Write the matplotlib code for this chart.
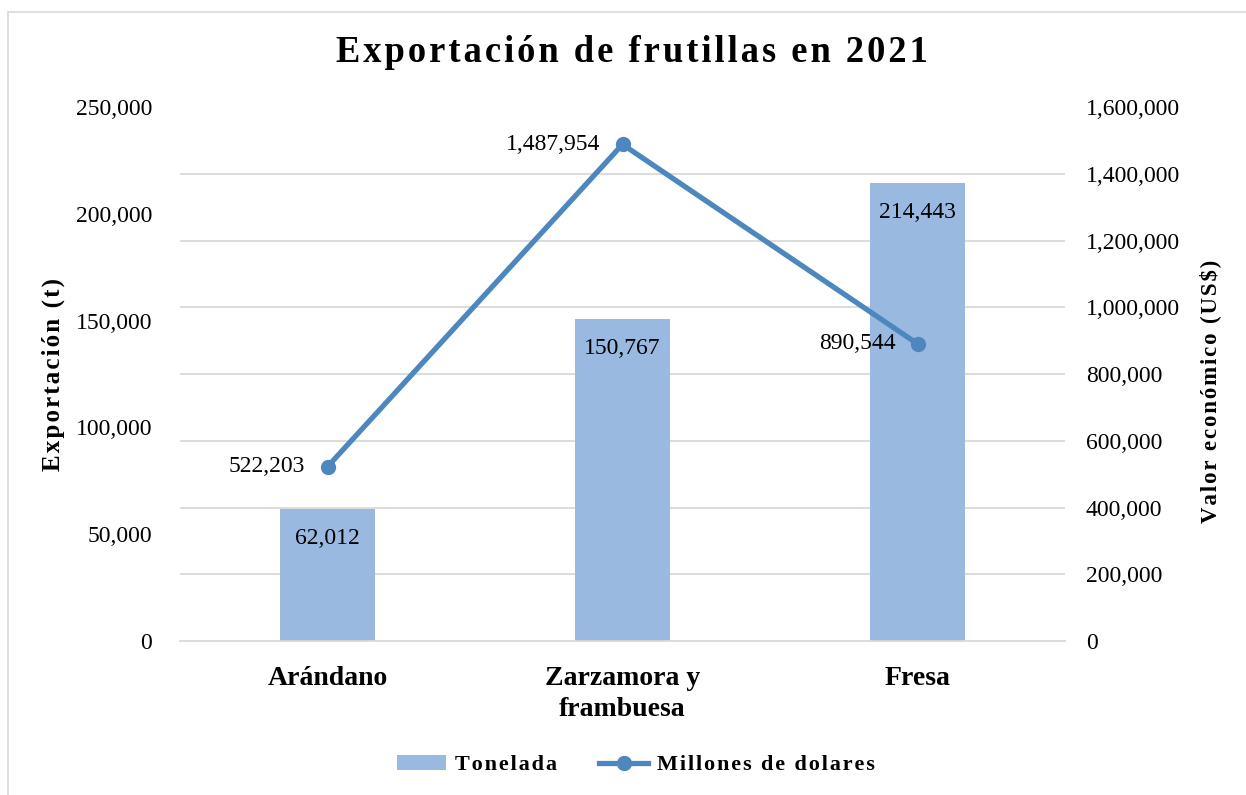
import matplotlib.pyplot as plt
from matplotlib.patches import Rectangle
from matplotlib.ticker import FuncFormatter, MultipleLocator

categorias = ['Arándano', 'Zarzamora y\nframbuesa', 'Fresa']
toneladas = [62012, 150767, 214443]
millones = [522203, 1487954, 890544]

plt.rcParams['font.family'] = ['Liberation Serif', 'DejaVu Serif']

bar_color = '#99B9E0'
line_color = '#4E87BE'
grid_color = '#D9D9D9'
fmt = FuncFormatter(lambda v, p: f'{v:,.0f}')


def spaced(s):
    # espaciado entre letras con hair space
    return '\u200a'.join(s)


fig = plt.figure(figsize=(12.46, 7.95), dpi=100)
# borde del grafico (solo visible arriba e izquierda)
fig.patches.append(Rectangle((8/1246, -0.1), 1.2, 1 - 12/795 + 0.1, transform=fig.transFigure,
                             fill=False, edgecolor=grid_color, linewidth=1.2))

ax = fig.add_axes([180/1246, 1 - 641/795, 885/1246, 534/795])
ax2 = ax.twinx()
ax.set_zorder(0)
ax2.set_zorder(1)
ax2.patch.set_visible(False)

x = list(range(len(categorias)))
bars = ax.bar(x, toneladas, width=0.32, color=bar_color, zorder=2, label=spaced('Tonelada'))
ax.set_ylim(0, 250000)
ax.set_yticks(range(0, 250001, 50000))
ax.yaxis.set_major_formatter(fmt)
# lineas de guia alineadas con el eje derecho (8 divisiones)
ax.yaxis.set_minor_locator(MultipleLocator(250000 / 8))
ax.grid(axis='y', which='minor', color=grid_color, linewidth=1.3)
ax.set_axisbelow(True)
ax.set_xlim(-0.5, 2.5)
ax.set_xticks(x)
ax.set_xticklabels(categorias, fontsize=20, fontweight='bold', linespacing=1.3)
ax.tick_params(axis='x', length=0, pad=18)
ax.tick_params(axis='y', which='both', length=0, labelsize=17, pad=20)
ax.set_ylabel(spaced('Exportación (t)'), fontsize=18, fontweight='bold', labelpad=8)

for xi, v in zip(x, toneladas):
    ax.annotate(f'{v:,}', (xi, v), xytext=(0, -14), textcoords='offset points',
                ha='center', va='top', fontsize=17, zorder=5)

ax2.plot(x, millones, color=line_color, linewidth=3.8, marker='o', markersize=10,
         label=spaced('Millones de dolares'), zorder=4)
ax2.set_ylim(0, 1600000)
ax2.set_yticks(range(0, 1600001, 200000))
ax2.yaxis.set_major_formatter(fmt)
ax2.tick_params(axis='y', length=0, labelsize=17, pad=15)
ax2.set_ylabel(spaced('Valor económico (US$)'), fontsize=16.5, fontweight='bold', labelpad=14,
               y=0.468)

for xi, v in zip(x, millones):
    ax2.annotate(f'{v:,}', (xi, v), xytext=(-16, 0), textcoords='offset points',
                 ha='right', va='center', fontsize=17)

for a in (ax, ax2):
    for s in a.spines.values():
        s.set_visible(False)
ax.spines['bottom'].set_visible(True)
ax.spines['bottom'].set_color(grid_color)
ax.spines['bottom'].set_linewidth(1.3)

h1, l1 = ax.get_legend_handles_labels()
h2, l2 = ax2.get_legend_handles_labels()
fig.legend(h1 + h2, l1 + l2, loc='center', bbox_to_anchor=(636/1246, 1 - 765/795), ncol=2,
           frameon=False, prop={'size': 16, 'weight': 'bold'}, handlelength=2.2,
           handletextpad=0.4, columnspacing=1.9)

fig.text(632/1246, 1 - 53/795, spaced('Exportación de frutillas en 2021'), ha='center',
         va='center', fontsize=26.3, fontweight='bold')

fig.savefig('out.png', dpi=100)
